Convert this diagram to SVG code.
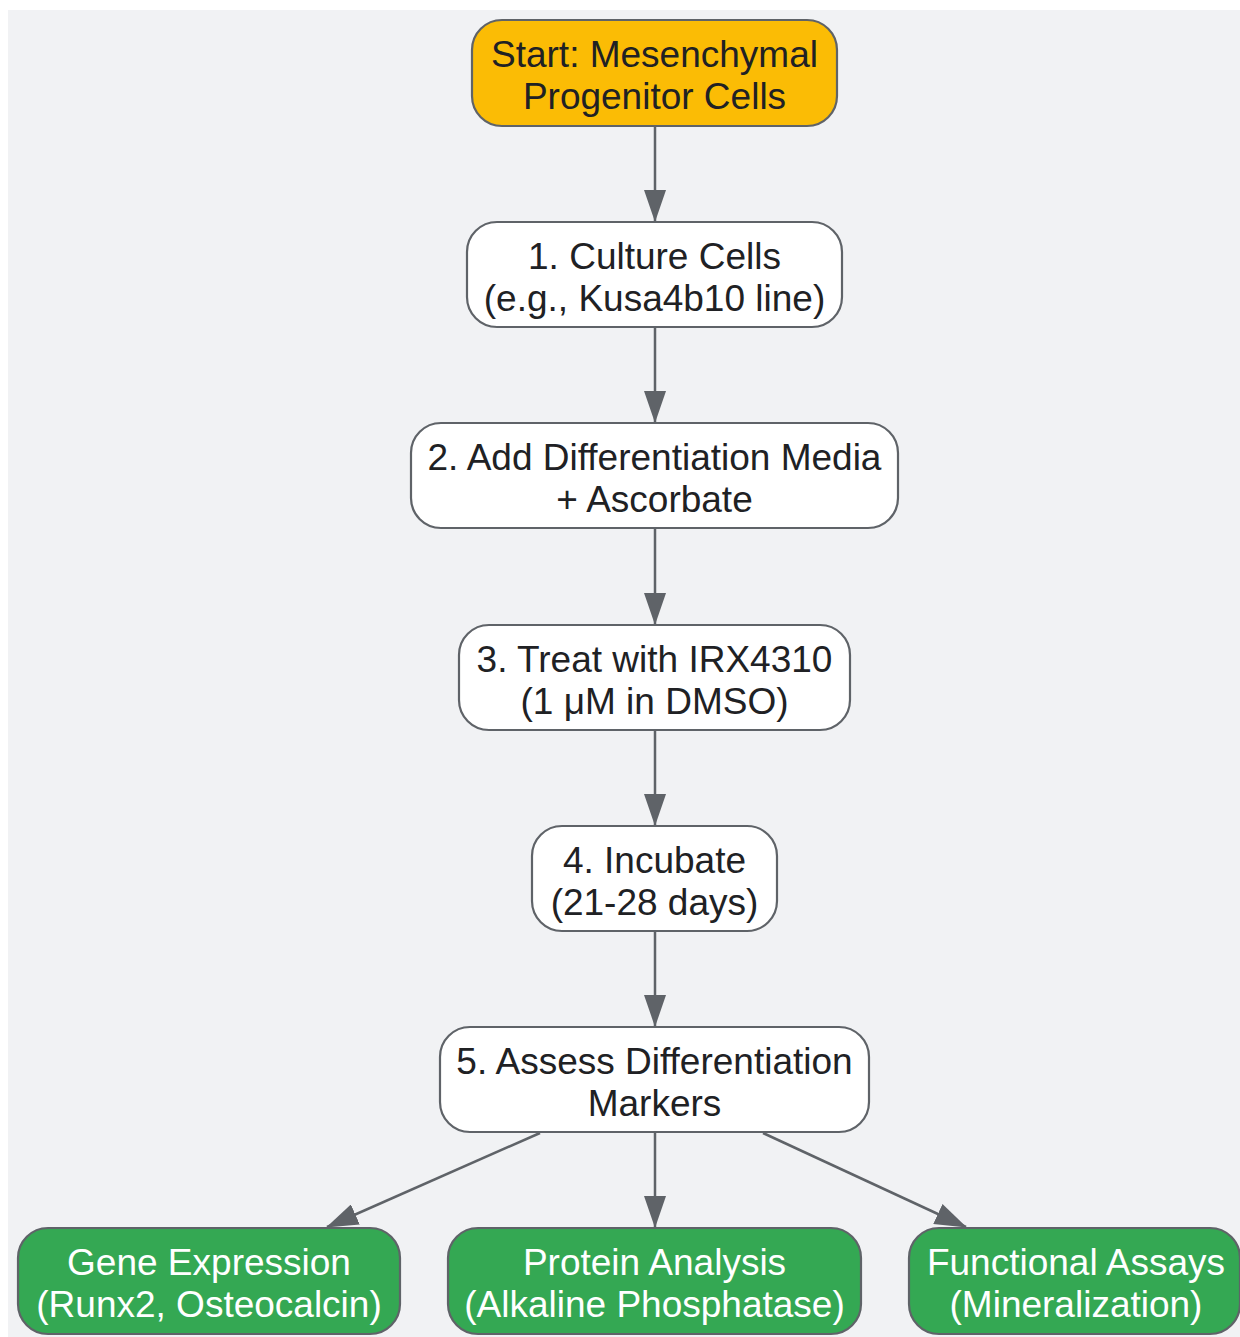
<svg xmlns="http://www.w3.org/2000/svg" width="1240" height="1337" viewBox="0 0 1240 1337">
<defs>
<style>
.bg{fill:#f1f2f4}
.n{stroke:#5f6368;stroke-width:2.2}
.w{fill:#ffffff}
.y{fill:#fbbc05}
.g{fill:#34a853}
text{font-family:"Liberation Sans",Arial,sans-serif;font-size:37px;text-anchor:middle}
.d{fill:#202124}
.l{fill:#ffffff}
.e{stroke:#5f6368;stroke-width:2.5;fill:none;marker-end:url(#ah)}
</style>
<marker id="ah" viewBox="0 0 32 22" refX="31" refY="11" markerWidth="32" markerHeight="22" markerUnits="userSpaceOnUse" orient="auto">
<path d="M0,0 L32,11 L0,22 Z" fill="#5f6368"/>
</marker>
</defs>
<rect class="bg" x="8" y="10" width="1232" height="1327"/>
<g id="connectors">
<line class="e" x1="655" y1="127" x2="655" y2="221"/>
<line class="e" x1="655" y1="328" x2="655" y2="422"/>
<line class="e" x1="655" y1="529" x2="655" y2="624"/>
<line class="e" x1="655" y1="731" x2="655" y2="825"/>
<line class="e" x1="655" y1="932" x2="655" y2="1026"/>
<line class="e" x1="655" y1="1133" x2="655" y2="1227"/>
<line class="e" x1="540" y1="1133" x2="327" y2="1227"/>
<line class="e" x1="763" y1="1133" x2="966" y2="1227"/>
</g>
<g id="start">
<rect class="n y" x="472" y="20" width="365" height="106" rx="30"/>
<text class="d" x="654.5" y="67">Start: Mesenchymal</text>
<text class="d" x="654.5" y="109">Progenitor Cells</text>
</g>
<g id="step1">
<rect class="n w" x="467" y="222" width="375" height="105" rx="30"/>
<text class="d" x="654.5" y="269">1. Culture Cells</text>
<text class="d" x="654.5" y="311">(e.g., Kusa4b10 line)</text>
</g>
<g id="step2">
<rect class="n w" x="411" y="423" width="487" height="105" rx="30"/>
<text class="d" x="654.5" y="470">2. Add Differentiation Media</text>
<text class="d" x="654.5" y="512">+ Ascorbate</text>
</g>
<g id="step3">
<rect class="n w" x="459" y="625" width="391" height="105" rx="30"/>
<text class="d" x="654.5" y="672">3. Treat with IRX4310</text>
<text class="d" x="654.5" y="714">(1 μM in DMSO)</text>
</g>
<g id="step4">
<rect class="n w" x="532" y="826" width="245" height="105" rx="30"/>
<text class="d" x="654.5" y="873">4. Incubate</text>
<text class="d" x="654.5" y="915">(21-28 days)</text>
</g>
<g id="step5">
<rect class="n w" x="440" y="1027" width="429" height="105" rx="30"/>
<text class="d" x="654.5" y="1074">5. Assess Differentiation</text>
<text class="d" x="654.5" y="1116">Markers</text>
</g>
<g id="gene">
<rect class="n g" x="18" y="1228" width="382" height="106" rx="30"/>
<text class="l" x="209" y="1275">Gene Expression</text>
<text class="l" x="209" y="1317">(Runx2, Osteocalcin)</text>
</g>
<g id="protein">
<rect class="n g" x="448" y="1228" width="413" height="106" rx="30"/>
<text class="l" x="654.5" y="1275">Protein Analysis</text>
<text class="l" x="654.5" y="1317">(Alkaline Phosphatase)</text>
</g>
<g id="functional">
<rect class="n g" x="909" y="1228" width="331" height="106" rx="30"/>
<text class="l" x="1076" y="1275">Functional Assays</text>
<text class="l" x="1076" y="1317">(Mineralization)</text>
</g>
</svg>
